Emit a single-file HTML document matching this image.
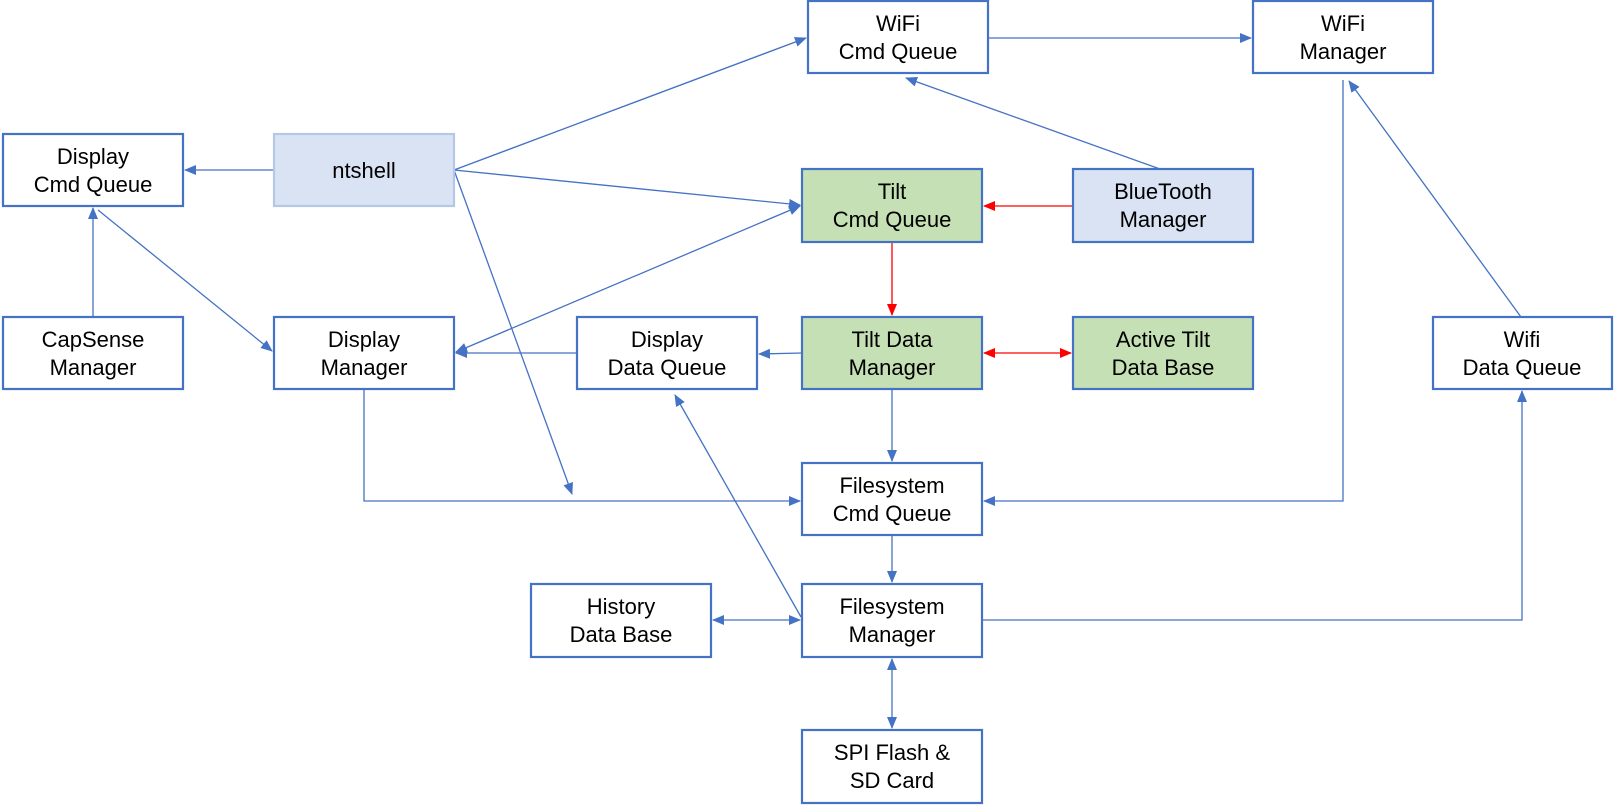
<!DOCTYPE html>
<html><head><meta charset="utf-8"><style>
html,body{margin:0;padding:0;background:#fff;}
svg{display:block;}
text{font-family:"Liberation Sans",Arial,sans-serif;font-size:22px;fill:#000;text-anchor:middle;}
</style></head><body>
<svg width="1614" height="810" viewBox="0 0 1614 810" xmlns="http://www.w3.org/2000/svg">
<defs>
<marker id="b" viewBox="0 0 12 10" refX="11" refY="5" markerWidth="12" markerHeight="10" orient="auto-start-reverse" markerUnits="userSpaceOnUse"><path d="M0,0 L12,5 L0,10 z" fill="#4472c4"/></marker>
<marker id="r" viewBox="0 0 12 10" refX="11" refY="5" markerWidth="12" markerHeight="10" orient="auto-start-reverse" markerUnits="userSpaceOnUse"><path d="M0,0 L12,5 L0,10 z" fill="#ff0000"/></marker>
</defs>
<g stroke="#4472c4" stroke-width="1.3" fill="none">
<line x1="274" y1="170" x2="185" y2="170" marker-end="url(#b)"/>
<line x1="454" y1="170" x2="806" y2="38" marker-end="url(#b)"/>
<line x1="454" y1="170" x2="800" y2="205" marker-end="url(#b)"/>
<line x1="454" y1="170" x2="572" y2="494" marker-end="url(#b)"/>
<line x1="988" y1="38" x2="1251" y2="38" marker-end="url(#b)"/>
<line x1="1160" y1="169" x2="906" y2="78" marker-end="url(#b)"/>
<line x1="802" y1="353" x2="759" y2="354" marker-end="url(#b)"/>
<line x1="577" y1="353" x2="456" y2="353" marker-end="url(#b)"/>
<line x1="800" y1="206" x2="456" y2="352" marker-start="url(#b)" marker-end="url(#b)"/>
<line x1="93" y1="317" x2="93" y2="208" marker-end="url(#b)"/>
<line x1="98" y1="210" x2="272" y2="351" marker-end="url(#b)"/>
<polyline points="364,389 364,501 800,501" marker-end="url(#b)"/>
<line x1="892" y1="389" x2="892" y2="461" marker-end="url(#b)"/>
<polyline points="1343,80 1343,501 984,501" marker-end="url(#b)"/>
<line x1="1521" y1="317" x2="1349" y2="81" marker-end="url(#b)"/>
<line x1="892" y1="535" x2="892" y2="582" marker-end="url(#b)"/>
<line x1="713" y1="620" x2="800" y2="620" marker-start="url(#b)" marker-end="url(#b)"/>
<line x1="801" y1="617" x2="675" y2="395" marker-end="url(#b)"/>
<polyline points="982,620 1522,620 1522,391" marker-end="url(#b)"/>
<line x1="892" y1="659" x2="892" y2="728" marker-start="url(#b)" marker-end="url(#b)"/>
</g>
<g stroke="#ff0000" stroke-width="1.3" fill="none">
<line x1="1073" y1="206" x2="984" y2="206" marker-end="url(#r)"/>
<line x1="892" y1="242" x2="892" y2="315" marker-end="url(#r)"/>
<line x1="984" y1="353" x2="1071" y2="353" marker-start="url(#r)" marker-end="url(#r)"/>
</g>
<g stroke="#4472c4" stroke-width="2.2" fill="#fff">
<rect x="808" y="1" width="180" height="72"/>
<rect x="1253" y="1" width="180" height="72"/>
<rect x="3" y="134" width="180" height="72"/>
<rect x="274" y="134" width="180" height="72" fill="#dae3f3" stroke="#b4c7e7"/>
<rect x="802" y="169" width="180" height="73" fill="#c5e0b4"/>
<rect x="1073" y="169" width="180" height="73" fill="#dae3f3"/>
<rect x="3" y="317" width="180" height="72"/>
<rect x="274" y="317" width="180" height="72"/>
<rect x="577" y="317" width="180" height="72"/>
<rect x="802" y="317" width="180" height="72" fill="#c5e0b4"/>
<rect x="1073" y="317" width="180" height="72" fill="#c5e0b4"/>
<rect x="1433" y="317" width="179" height="72"/>
<rect x="802" y="463" width="180" height="72"/>
<rect x="531" y="584" width="180" height="73"/>
<rect x="802" y="584" width="180" height="73"/>
<rect x="802" y="730" width="180" height="73"/>
</g>
<text x="898" y="31">WiFi</text><text x="898" y="59">Cmd Queue</text>
<text x="1343" y="31">WiFi</text><text x="1343" y="59">Manager</text>
<text x="93" y="164">Display</text><text x="93" y="192">Cmd Queue</text>
<text x="364" y="178">ntshell</text>
<text x="892" y="199">Tilt</text><text x="892" y="227">Cmd Queue</text>
<text x="1163" y="199">BlueTooth</text><text x="1163" y="227">Manager</text>
<text x="93" y="347">CapSense</text><text x="93" y="375">Manager</text>
<text x="364" y="347">Display</text><text x="364" y="375">Manager</text>
<text x="667" y="347">Display</text><text x="667" y="375">Data Queue</text>
<text x="892" y="347">Tilt Data</text><text x="892" y="375">Manager</text>
<text x="1163" y="347">Active Tilt</text><text x="1163" y="375">Data Base</text>
<text x="1522" y="347">Wifi</text><text x="1522" y="375">Data Queue</text>
<text x="892" y="493">Filesystem</text><text x="892" y="521">Cmd Queue</text>
<text x="621" y="614">History</text><text x="621" y="642">Data Base</text>
<text x="892" y="614">Filesystem</text><text x="892" y="642">Manager</text>
<text x="892" y="760">SPI Flash &amp;</text><text x="892" y="788">SD Card</text>
</svg>
</body></html>
